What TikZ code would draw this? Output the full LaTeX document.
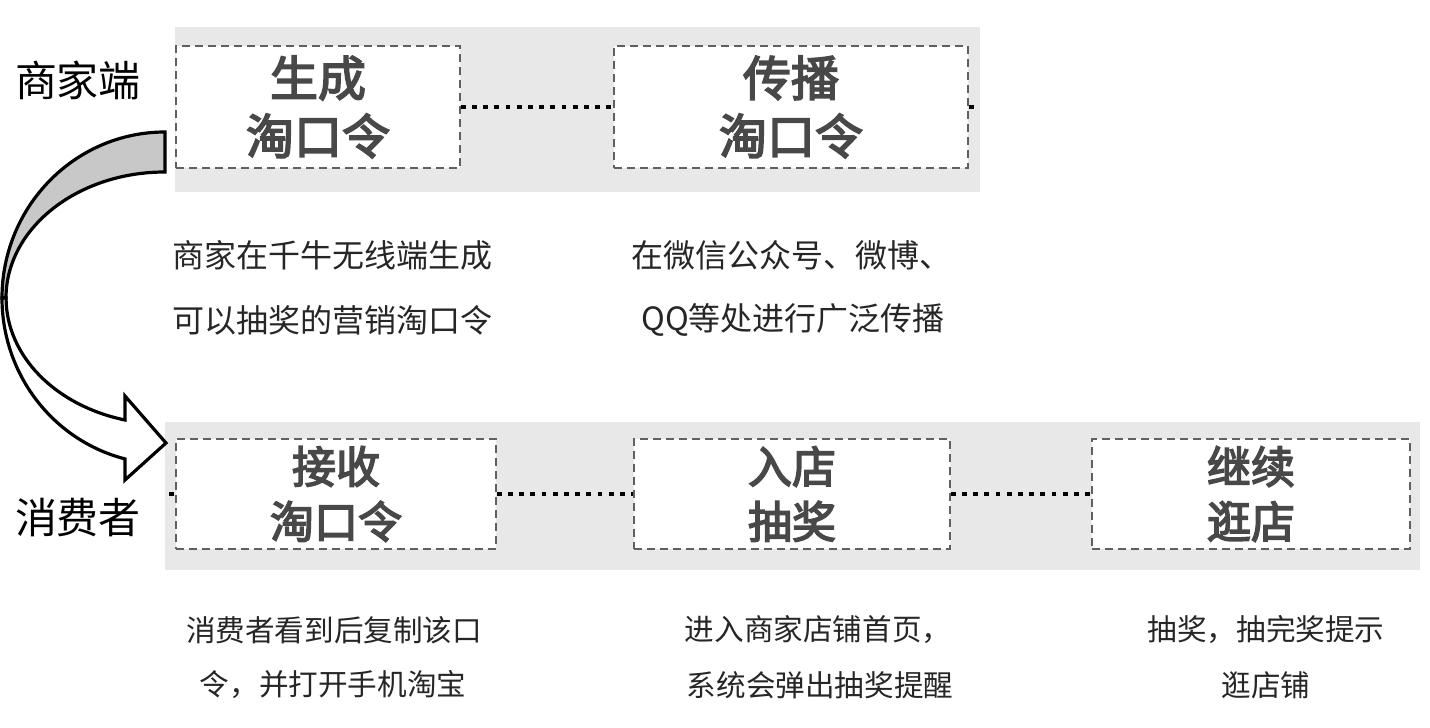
\documentclass[tikz,border=0pt]{standalone}
\usepackage{fontspec}
\setmainfont{Noto Sans CJK SC}
\newfontfamily\titlefont{Noto Sans CJK SC}[FakeBold=3.5]
\definecolor{bandgray}{HTML}{E8E8E8}
\definecolor{ribbongray}{HTML}{C8C8C8}
\definecolor{titlegray}{HTML}{484848}
\definecolor{dashgray}{HTML}{606060}
\definecolor{desctext}{HTML}{262626}
\begin{document}
\begin{tikzpicture}[x=0.5pt,y=0.5pt,
  band/.style={fill=bandgray,draw=none},
  stepbox/.style={draw=dashgray,fill=white,line width=0.8pt,dash pattern=on 4pt off 2.5pt,
    align=center,inner sep=0pt,text=titlegray,font=\titlefont\fontsize{24}{29}\selectfont},
  stepboxlow/.style={stepbox,font=\titlefont\fontsize{22}{27.5}\selectfont},
  dotline/.style={draw=black,line width=2.4pt,dash pattern=on 2.4pt off 3.2pt},
  side/.style={font=\fontsize{21}{25}\selectfont,text=black},
  desc/.style={font=\fontsize{16}{20}\selectfont,text=desctext,inner sep=0pt},
  desclow/.style={font=\fontsize{14.8}{18}\selectfont,text=desctext,inner sep=0pt},
  ribbon/.style={draw=black,line width=1.6pt,line join=miter}
]
\useasboundingbox (0,0) rectangle (1430,728);
% bands
\fill[band] (175,536) rectangle (980,701);
\fill[band] (165,158) rectangle (1420,306);
% side labels
\node[side] (merchant) at (78,648) {商家端};
\node[side] (consumer) at (78,210) {消费者};
% top boxes
\node[stepbox,minimum width=142pt,minimum height=61pt] (gen) at (318,621) {生成\\淘口令};
\node[stepbox,minimum width=177pt,minimum height=61pt] (spread) at (791,621) {传播\\淘口令};
\coordinate (topstub) at (976,621);
\draw[dotline] (gen.east) -- (spread.west);
\draw[dotline] (spread.east) -- (topstub);
% bottom boxes
\node[stepboxlow,minimum width=160pt,minimum height=55pt] (recv) at (336,234) {接收\\淘口令};
\node[stepboxlow,minimum width=158pt,minimum height=55pt] (draw) at (792,234) {入店\\抽奖};
\node[stepboxlow,minimum width=159pt,minimum height=55pt] (shop) at (1251,234) {继续\\逛店};
\coordinate (lowstub) at (169,234);
\draw[dotline] (lowstub) -- (recv.west);
\draw[dotline] (recv.east) -- (draw.west);
\draw[dotline] (draw.east) -- (shop.west);
% descriptions
\node[desc] (d1a) at (332,473) {商家在千牛无线端生成};
\node[desc] (d1b) at (332,408) {可以抽奖的营销淘口令};
\node[desc] (d2a) at (791,473) {在微信公众号、微博、};
\node[desc] (d2b) at (793,408) {QQ等处进行广泛传播};
\node[desclow] (d3a) at (334,98) {消费者看到后复制该口};
\node[desclow] (d3b) at (333,43) {令，并打开手机淘宝};
\node[desclow] (d4a) at (818,98) {进入商家店铺首页，};
\node[desclow] (d4b) at (820,43) {系统会弹出抽奖提醒};
\node[desclow] (d5a) at (1266,98) {抽奖，抽完奖提示};
\node[desclow] (d5b) at (1266,43) {逛店铺};
% curved arrow
\filldraw[ribbon,fill=ribbongray] (165,596) arc[start angle=90,end angle=180,x radius=163,y radius=166]
  -- (6,430) arc[start angle=180,end angle=90,x radius=159,y radius=126] -- cycle;
\filldraw[ribbon,fill=white] (2,430) arc[start angle=180,end angle=255.8,x radius=163,y radius=166]
  -- (125,248) -- (166,285) -- (125,332) -- (125,308)
  arc[start angle=255.4,end angle=180,x radius=159,y radius=126] -- cycle;
\end{tikzpicture}
\end{document}
